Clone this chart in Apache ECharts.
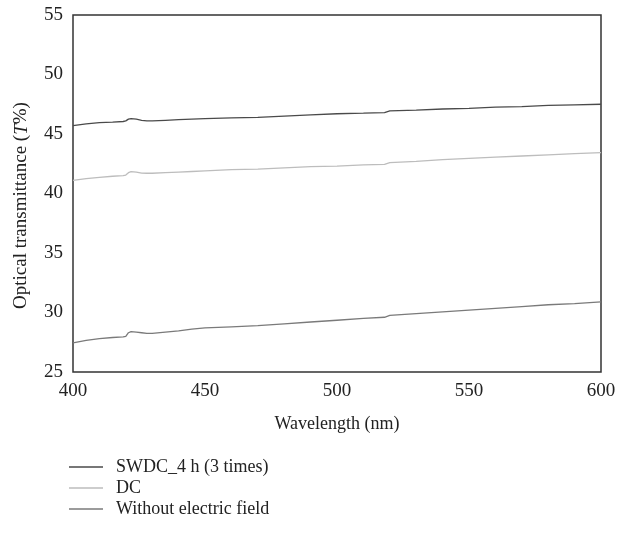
<!DOCTYPE html>
<html><head><meta charset="utf-8">
<script src="https://cdn.jsdelivr.net/npm/echarts@6/dist/echarts.min.js"></script>
<style>html,body{margin:0;padding:0;background:#fff}#c{width:628px;height:533px}</style>
</head><body><div id="c"></div>
<script>
var wavelengths = [400,405,410,415,419,420,421,422,424,426,428,430,435,440,445,450,460,470,480,490,500,510,518,520,530,540,550,560,570,580,590,600];
var swdc = [45.7,45.85,45.95,46.0,46.05,46.1,46.25,46.3,46.25,46.15,46.1,46.1,46.15,46.2,46.25,46.3,46.35,46.4,46.5,46.6,46.7,46.75,46.8,46.95,47.0,47.1,47.15,47.25,47.3,47.4,47.45,47.5];
var dc = [41.1,41.25,41.35,41.45,41.5,41.55,41.75,41.83,41.8,41.72,41.7,41.7,41.75,41.8,41.85,41.9,42.0,42.05,42.15,42.25,42.3,42.4,42.45,42.6,42.7,42.85,42.95,43.05,43.15,43.25,43.35,43.43];
var noField = [27.45,27.65,27.8,27.9,27.95,28.0,28.3,28.4,28.35,28.3,28.25,28.25,28.35,28.45,28.6,28.7,28.8,28.9,29.05,29.2,29.35,29.5,29.6,29.75,29.9,30.05,30.2,30.35,30.5,30.65,30.75,30.9];
var seriesNames = ['SWDC_4 h (3 times)','DC','Without electric field'];
var xTicks = [400,450,500,550,600];
var yTicks = [25,30,35,40,45,50,55];

function pairs(v){return wavelengths.map(function(w,i){return [w,v[i]];});}
var font = 'Liberation Serif';
var chart = echarts.init(document.getElementById('c'));
chart.setOption({
  animation:false,
  grid:{left:73,top:15,right:27,bottom:161,show:true,borderColor:'#333',borderWidth:1.5,containLabel:false},
  xAxis:{type:'value',min:xTicks[0],max:xTicks[xTicks.length-1],interval:50,
    axisLine:{show:false},axisTick:{show:false},splitLine:{show:false},
    axisLabel:{fontFamily:font,fontSize:19,color:'#222',margin:10},
    name:'Wavelength (nm)',nameLocation:'middle',nameGap:43,
    nameTextStyle:{fontFamily:font,fontSize:18,color:'#222'}},
  yAxis:{type:'value',min:yTicks[0],max:yTicks[yTicks.length-1],interval:5,
    axisLine:{show:false},axisTick:{show:false},splitLine:{show:false},
    axisLabel:{fontFamily:font,fontSize:19,color:'#222',margin:10},
    name:'{a|Optical transmittance (}{i|T}{a|%)}',nameLocation:'middle',nameGap:42,
    nameTextStyle:{fontFamily:font,fontSize:19,color:'#222',padding:[0,24,0,0],
      rich:{a:{fontFamily:font,fontSize:19,color:'#222'},i:{fontFamily:font,fontSize:19,color:'#222',fontStyle:'italic'}}}},
  legend:{orient:'vertical',left:64,top:453,itemWidth:34,itemHeight:1.5,itemGap:3,icon:'rect',
    textStyle:{fontFamily:font,fontSize:18,color:'#222',padding:[0,0,0,8]},
    data:seriesNames},
  series:[
    {name:seriesNames[0],type:'line',data:pairs(swdc),showSymbol:false,lineStyle:{color:'#4a4a4a',width:1.3},itemStyle:{color:'#4a4a4a'}},
    {name:seriesNames[1],type:'line',data:pairs(dc),showSymbol:false,lineStyle:{color:'#bdbdbd',width:1.3},itemStyle:{color:'#bdbdbd'}},
    {name:seriesNames[2],type:'line',data:pairs(noField),showSymbol:false,lineStyle:{color:'#7a7a7a',width:1.3},itemStyle:{color:'#7a7a7a'}}
  ]
});
</script></body></html>
